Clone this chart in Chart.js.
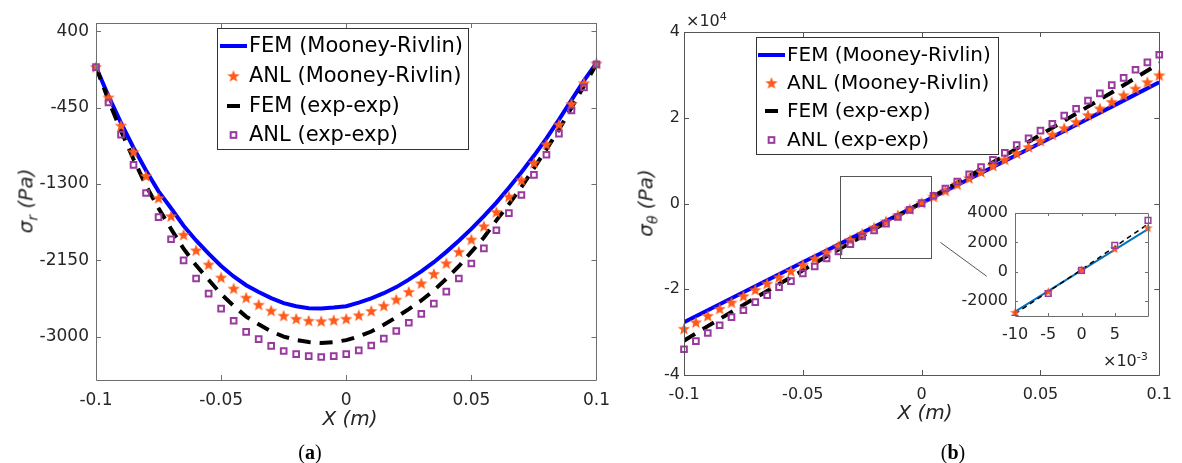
<!DOCTYPE html>
<html>
<head>
<meta charset="utf-8">
<title>Radial and hoop stress</title>
<script src="https://cdn.jsdelivr.net/npm/chart.js@4.4.1/dist/chart.umd.min.js"></script>
<style>
  body { margin: 0; background: #fff; }
  #wrap { position: relative; width: 1182px; height: 463px; overflow: hidden; font-family: "DejaVu Sans", sans-serif; color: #262626; }
  canvas { position: absolute; }
  #cA { left: 0; top: 0; }
  #cB { left: 620px; top: 0; }
  #cIn { left: 940px; top: 190px; }
  .lab { position: absolute; white-space: nowrap; transform: translate(-50%, -50%); }
  .ylab { transform: translate(-50%, -50%) rotate(-90deg); }
  .it { font-style: italic; font-size: 20px; }
  .cap { font-family: "Liberation Serif", serif; font-size: 20px; color: #000; }
  .exp { position: absolute; font-size: 16px; white-space: nowrap; }
  sub, sup { font-size: 70%; }
</style>
</head>
<body>
<div id="wrap">
  <canvas id="cA" width="620" height="463"></canvas>
  <canvas id="cB" width="562" height="463"></canvas>
  <canvas id="cIn" width="236" height="190"></canvas>
  <div class="lab ylab it" style="left:27px;top:201px">σ<sub>r</sub> (Pa)</div>
  <div class="lab ylab it" style="left:647px;top:203px">σ<sub>θ</sub> (Pa)</div>
  <div class="lab it" style="left:350px;top:418px">X (m)</div>
  <div class="lab it" style="left:925px;top:412px">X (m)</div>
  <div class="lab cap" style="left:310px;top:452px">(<b>a</b>)</div>
  <div class="lab cap" style="left:953px;top:452px">(<b>b</b>)</div>
  <div class="exp" style="left:686px;top:10px">×10<sup>4</sup></div>
  <div class="exp" style="left:1103px;top:350px">×10<sup>-3</sup></div>
</div>
<script>
// x positions of the analytical points (m)
const xs = [-0.1, -0.095, -0.09, -0.085, -0.08, -0.075, -0.07, -0.065, -0.06, -0.055,
            -0.05, -0.045, -0.04, -0.035, -0.03, -0.025, -0.02, -0.015, -0.01, -0.005,
            0, 0.005, 0.01, 0.015, 0.02, 0.025, 0.03, 0.035, 0.04, 0.045,
            0.05, 0.055, 0.06, 0.065, 0.07, 0.075, 0.08, 0.085, 0.09, 0.095, 0.1];
// x positions for the FEM lines in (b)
const xLine = [-0.1, -0.09, -0.08, -0.07, -0.06, -0.05, -0.04, -0.03, -0.02, -0.01,
               0, 0.01, 0.02, 0.03, 0.04, 0.05, 0.06, 0.07, 0.08, 0.09, 0.1];

const seriesNames = ['FEM (Mooney-Rivlin)', 'ANL (Mooney-Rivlin)', 'FEM (exp-exp)', 'ANL (exp-exp)'];

// (a) radial stress, Pa
const radialFemMR = [0, -323, -621, -897, -1151, -1382, -1570, -1765, -1928, -2075,
  -2212, -2329, -2426, -2502, -2569, -2625, -2659, -2681, -2686, -2675,
  -2659, -2620, -2572, -2515, -2447, -2364, -2272, -2170, -2055, -1932,
  -1800, -1658, -1507, -1343, -1170, -987, -793, -585, -368, -150, 45];
const radialAnlMR = [0, -338, -651, -942, -1211, -1457, -1658, -1865, -2038, -2195,
  -2340, -2463, -2564, -2642, -2709, -2765, -2799, -2821, -2826, -2815,
  -2799, -2760, -2712, -2655, -2585, -2500, -2405, -2300, -2182, -2055,
  -1918, -1770, -1612, -1440, -1258, -1065, -860, -640, -410, -180, 40];
const radialFemExp = [0, -370, -710, -1025, -1320, -1570, -1800, -2020, -2205, -2365,
  -2525, -2655, -2775, -2860, -2940, -2997, -3035, -3058, -3068, -3058,
  -3037, -2995, -2941, -2866, -2782, -2692, -2596, -2484, -2355, -2215,
  -2055, -1895, -1705, -1525, -1335, -1125, -915, -695, -453, -210, 35];
const radialAnlExp = [0, -394, -752, -1087, -1400, -1668, -1915, -2150, -2351, -2519,
  -2687, -2821, -2944, -3025, -3101, -3157, -3192, -3214, -3224, -3214,
  -3192, -3150, -3096, -3020, -2935, -2843, -2745, -2630, -2497, -2351,
  -2184, -2016, -1815, -1624, -1423, -1199, -975, -740, -483, -226, 30];

// (b) hoop stress, Pa
const hoopFemMR = [-27700, -24900, -22100, -19300, -16500, -13700, -10950, -8200, -5450, -2700,
  100, 2900, 5700, 8500, 11300, 14100, 16900, 19750, 22600, 25450, 28300];
const hoopAnlMR = [-29200, -27700, -26200, -24560, -23080, -21600, -20140, -18680, -17220, -15760,
  -14300, -12850, -11400, -9950, -8500, -7060, -5620, -4180, -2750, -1333,
  130, 1580, 3000, 4450, 5900, 7350, 8800, 10250, 11700, 13150,
  14600, 16080, 17560, 19040, 20600, 22150, 23700, 25250, 26800, 28300, 29900];
const hoopFemExp = [-32000, -28600, -25300, -22000, -18800, -15600, -12300, -9200, -6000, -2850,
  150, 3250, 6400, 9600, 12800, 16000, 19300, 22600, 25900, 29300, 32700];
const hoopAnlExp = [-34000, -32100, -30200, -28400, -26500, -24900, -23000, -21400, -19500, -18100,
  -16300, -14700, -12800, -11200, -9500, -7700, -6300, -4700, -3150, -1470,
  100, 1800, 3500, 5100, 6800, 8500, 10200, 11800, 13600, 15200,
  17000, 18600, 20500, 22100, 24000, 25700, 27600, 29300, 31200, 32900, 34700];

// tick labels
const xTicks = [-0.1, -0.05, 0, 0.05, 0.1];
const xTickLabels = ['-0.1', '-0.05', '0', '0.05', '0.1'];
const radialTicks = [400, -450, -1300, -2150, -3000];
const radialTickLabels = ['400', '-450', '-1300', '-2150', '-3000'];
const hoopTicks = [40000, 20000, 0, -20000, -40000];
const hoopTickLabels = ['4', '2', '0', '-2', '-4'];
const insetXTicks = [-0.01, -0.005, 0, 0.005];
const insetXLabels = ['-10', '-5', '0', '5'];
const insetYTicks = [4000, 2000, 0, -2000];
const insetYLabels = ['4000', '2000', '0', '-2000'];

// zoom window drawn on (b) and the pointer to the inset
const zoomBoxX = [-0.0345, 0.004];
const zoomBoxY = [-12600, 6300];
const pointerX = [0.0079, 0.0274];
const pointerY = [-9070, -16980];

const BLUE = '#0000FF', ORANGE = '#FF5A1A', PURPLE = '#9A3A9E', GREY = '#6e6e6e';

function starImage(d, color) {
  const c = document.createElement('canvas');
  c.width = c.height = d;
  const g = c.getContext('2d');
  const R = d / 2 - 0.5, r = R * 0.42, cx = d / 2, cy = d / 2 + R * 0.08;
  g.beginPath();
  for (let k = 0; k < 10; k++) {
    const rad = k % 2 ? r : R;
    const a = -Math.PI / 2 + k * Math.PI / 5;
    g.lineTo(cx + rad * Math.cos(a), cy + rad * Math.sin(a));
  }
  g.closePath();
  g.fillStyle = color;
  g.fill();
  return c;
}

const pts = (xv, yv) => xv.map((x, i) => ({ x: x, y: yv[i] }));

function scale(min, max, ticks, labels, size, pad, fit) {
  return {
    type: 'linear', min: min, max: max,
    afterBuildTicks: s => { s.ticks = ticks.map(v => ({ value: v })); },
    afterFit: fit,
    ticks: {
      autoSkip: false, maxRotation: 0, padding: pad, color: '#262626',
      font: { family: 'DejaVu Sans', size: size },
      callback: (v, i) => labels[i]
    },
    grid: { display: false, drawTicks: false },
    border: { display: false }
  };
}

// box around the plot area with inward ticks on all four sides
const frame = {
  id: 'frame',
  beforeDatasetsDraw(chart, args, o) {
    if (!o.fill) return;
    const a = chart.chartArea;
    chart.ctx.save();
    chart.ctx.fillStyle = o.fill;
    chart.ctx.fillRect(a.left, a.top, a.width, a.height);
    chart.ctx.restore();
  },
  afterDraw(chart, args, o) {
    const { ctx, chartArea: a, scales } = chart;
    const L = o.tick || 5;
    ctx.save();
    ctx.strokeStyle = o.color || GREY;
    ctx.lineWidth = 1;
    ctx.beginPath();
    ctx.rect(Math.round(a.left) + 0.5, Math.round(a.top) + 0.5, Math.round(a.width), Math.round(a.height));
    scales.x.ticks.forEach(t => {
      const p = Math.round(scales.x.getPixelForValue(t.value)) + 0.5;
      ctx.moveTo(p, a.bottom); ctx.lineTo(p, a.bottom - L);
      ctx.moveTo(p, a.top); ctx.lineTo(p, a.top + L);
    });
    scales.y.ticks.forEach(t => {
      const p = Math.round(scales.y.getPixelForValue(t.value)) + 0.5;
      ctx.moveTo(a.left, p); ctx.lineTo(a.left + L, p);
      ctx.moveTo(a.right, p); ctx.lineTo(a.right - L, p);
    });
    ctx.stroke();
    ctx.restore();
  }
};

// legend box inside the axes
const boxLegend = {
  id: 'boxLegend',
  afterDraw(chart, args, o) {
    if (!o.box) return;
    const ctx = chart.ctx;
    const [bx, by, bw, bh] = o.box;
    ctx.save();
    ctx.fillStyle = '#fff';
    ctx.fillRect(bx, by, bw, bh);
    ctx.strokeStyle = '#333';
    ctx.lineWidth = 1;
    ctx.strokeRect(bx + 0.5, by + 0.5, bw, bh);
    ctx.font = o.font;
    ctx.textBaseline = 'middle';
    const [l0, l1] = o.line;
    const mid = (l0 + l1) / 2;
    chart.data.datasets.forEach((ds, i) => {
      const y = o.rows[i];
      if (ds.showLine) {
        ctx.strokeStyle = ds.borderColor;
        ctx.lineWidth = ds.borderWidth;
        ctx.beginPath();
        if (ds.borderDash && ds.borderDash.length) {
          const d = ds.borderDash[0];
          ctx.moveTo(mid - d / 2, y); ctx.lineTo(mid + d / 2, y);
        } else {
          ctx.moveTo(l0, y); ctx.lineTo(l1, y);
        }
        ctx.stroke();
      } else if (ds.pointStyle instanceof HTMLCanvasElement) {
        const img = ds.pointStyle;
        ctx.drawImage(img, mid - img.width / 2, y - img.height / 2);
      } else {
        const s = ds.pointRadius * Math.SQRT1_2;
        ctx.strokeStyle = ds.borderColor;
        ctx.lineWidth = ds.borderWidth;
        ctx.strokeRect(mid - s, y - s, 2 * s, 2 * s);
      }
      ctx.fillStyle = '#000';
      ctx.fillText(ds.label, o.text, y + 1);
    });
    ctx.restore();
  }
};

// zoom window and pointer line on (b)
const zoomMark = {
  id: 'zoomMark',
  afterDatasetsDraw(chart, args, o) {
    if (!o.show) return;
    const { ctx, scales: { x, y } } = chart;
    ctx.save();
    ctx.strokeStyle = '#555';
    ctx.lineWidth = 1;
    const x0 = Math.round(x.getPixelForValue(zoomBoxX[0])) + 0.5;
    const x1 = Math.round(x.getPixelForValue(zoomBoxX[1])) + 0.5;
    const y0 = Math.round(y.getPixelForValue(zoomBoxY[1])) + 0.5;
    const y1 = Math.round(y.getPixelForValue(zoomBoxY[0])) + 0.5;
    ctx.strokeRect(x0, y0, x1 - x0, y1 - y0);
    ctx.beginPath();
    ctx.moveTo(x.getPixelForValue(pointerX[0]), y.getPixelForValue(pointerY[0]));
    ctx.lineTo(x.getPixelForValue(pointerX[1]), y.getPixelForValue(pointerY[1]));
    ctx.stroke();
    ctx.restore();
  }
};

Chart.register(frame, boxLegend, zoomMark);

function sets(lx, femMR, anlMR, femExp, anlExp, st) {
  return [
    { label: seriesNames[0], data: pts(lx, femMR), showLine: true, borderColor: st.blue, borderWidth: st.lw,
      pointRadius: 0, order: 3 },
    { label: seriesNames[1], data: pts(xs, anlMR), showLine: false, pointStyle: starImage(st.star, ORANGE),
      pointRadius: st.star / 2, clip: st.clip, order: 1 },
    { label: seriesNames[2], data: pts(lx, femExp), showLine: true, borderColor: '#000', borderWidth: st.dw,
      borderDash: st.dash, pointRadius: 0, order: 2 },
    { label: seriesNames[3], data: pts(xs, anlExp), showLine: false, pointStyle: 'rect', pointRadius: st.sq,
      borderColor: PURPLE, borderWidth: st.sqw, backgroundColor: 'rgba(255,255,255,0)', clip: st.clip, order: 0 }
  ];
}

const common = { responsive: false, animation: false, devicePixelRatio: 1, events: [] };

// (a) radial stress
new Chart(document.getElementById('cA'), {
  type: 'scatter',
  data: { datasets: sets(xs, radialFemMR, radialAnlMR, radialFemExp, radialAnlExp,
    { blue: BLUE, lw: 4, dw: 4, dash: [13, 9], star: 14, sq: 4, sqw: 2, clip: false }) },
  options: Object.assign({}, common, {
    layout: { padding: { left: 0, top: 23, right: 20, bottom: 0 } },
    scales: {
      x: scale(-0.1, 0.1, xTicks, xTickLabels, 17, 10, s => { s.height = 83; }),
      y: scale(-3480, 490, radialTicks, radialTickLabels, 17, 7, s => { s.width = 96; })
    },
    plugins: {
      legend: { display: false }, tooltip: { enabled: false },
      frame: { color: GREY, tick: 5 },
      boxLegend: { box: [217, 28, 251, 121], rows: [46, 76, 106, 135], line: [220, 247], text: 249,
        font: '21px "DejaVu Sans"' },
      zoomMark: { show: false }
    }
  })
});

// (b) hoop stress
new Chart(document.getElementById('cB'), {
  type: 'scatter',
  data: { datasets: sets(xLine, hoopFemMR, hoopAnlMR, hoopFemExp, hoopAnlExp,
    { blue: BLUE, lw: 4, dw: 4, dash: [13, 9], star: 14, sq: 4, sqw: 2, clip: false }) },
  options: Object.assign({}, common, {
    layout: { padding: { left: 0, top: 32, right: 16, bottom: 0 } },
    scales: {
      x: scale(-0.1, 0.1, xTicks, xTickLabels, 16, 10, s => { s.height = 88; }),
      y: scale(-40000, 40000, hoopTicks, hoopTickLabels, 16, 4, s => { s.width = 64; })
    },
    plugins: {
      legend: { display: false }, tooltip: { enabled: false },
      frame: { color: '#555', tick: 5 },
      boxLegend: { box: [136, 37, 242, 117], rows: [55, 83, 111, 140], line: [138, 165], text: 167,
        font: '20px "DejaVu Sans"' },
      zoomMark: { show: true }
    }
  })
});

// inset: zoom around the centre of (b)
new Chart(document.getElementById('cIn'), {
  type: 'scatter',
  data: { datasets: sets(xLine, hoopFemMR, hoopAnlMR, hoopFemExp, hoopAnlExp,
    { blue: '#0072BD', lw: 2, dw: 1.5, dash: [5, 4], star: 11, sq: 4, sqw: 1.5,
      clip: { left: 8, top: 8, right: 8, bottom: 0 } }) },
  options: Object.assign({}, common, {
    layout: { padding: { left: 0, top: 23, right: 28, bottom: 0 } },
    scales: {
      x: scale(-0.01, 0.01, insetXTicks, insetXLabels, 16, 9, s => { s.height = 64; }),
      y: scale(-3000, 4000, insetYTicks, insetYLabels, 16, 7, s => { s.width = 75; })
    },
    plugins: {
      legend: { display: false }, tooltip: { enabled: false },
      frame: { color: GREY, tick: 3, fill: '#fff' },
      boxLegend: { box: null },
      zoomMark: { show: false }
    }
  })
});
</script>
</body>
</html>
